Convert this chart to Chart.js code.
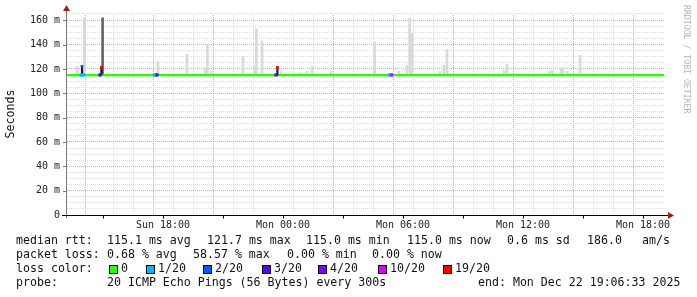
<!DOCTYPE html>
<html>
<head>
<meta charset="utf-8">
<script src="https://cdn.jsdelivr.net/npm/chart.js@4.4.1/dist/chart.umd.min.js"></script>
<style>
  body { margin: 0; background: #fff; }
  canvas { display: block; }
</style>
</head>
<body>
<canvas id="chart" width="697" height="297"></canvas>
<script>
// x 값은 Mon 00:00 기준 시간(hour), y 값은 ms
const startHour = -10.8;
const endHour = 19.05;
const medianRtt = 115;

// 연기(smoke) 스파이크: 시간, 최고값
const smokeHours = [-10.28, -9.93, -6.25, -4.8, -3.9, -3.78, -3.6, -2.0, -1.4, -1.33, -1.05,
  -0.1, 0.85, 1.2, 1.45, 2.4, 4.58, 5.8, 6.2, 6.33, 6.45, 7.85, 8.05, 8.2,
  11.05, 11.2, 13.3, 13.45, 13.9, 14.0, 14.2, 14.85];
const smokeTops = [122, 162, 126, 132, 121, 140, 118, 130, 123, 153, 143,
  118, 117, 118, 122, 118, 142, 118, 123, 162, 149, 118, 123, 136,
  119, 124, 118, 119, 121, 121, 118, 131];

// 손실이 큰 구간의 진한 연기
const darkSmokeHours = [-9.02];
const darkSmokeTops = [162];

// 중앙값이 튀어오른 지점
const jumpHours = [-10.05, -9.08, -0.28];
const jumpTops = [123, 122, 122];
const jumpLoss = [2, 6, 6];

// 손실 색상이 바뀐 중앙값 구간
const lossHours = [-10.1, -9.98, -9.15, -6.43, -6.3, -0.35, 5.3, 5.43];
const lossLevels = [1, 1, 3, 1, 3, 3, 1, 5];

// 축 라벨
const xTickHours = [-6, 0, 6, 12, 18];
const xTickLabels = ['Sun 18:00', 'Mon 00:00', 'Mon 06:00', 'Mon 12:00', 'Mon 18:00'];

// 범례
const lossLabels = ['0', '1/20', '2/20', '3/20', '4/20', '10/20', '19/20'];
const lossColors = ['#26ff00', '#00b8ff', '#0059ff', '#5e00ff', '#7e00ff', '#dd00ff', '#ff0000'];
const rttStats = ['115.1 ms avg', '121.7 ms max', '115.0 ms min', '115.0 ms now', '0.6 ms sd', '186.0', 'am/s'];
const lossStats = ['0.68 % avg', '58.57 % max', '0.00 % min', '0.00 % now'];
const probeText = '20 ICMP Echo Pings (56 Bytes) every 300s';
const endText = 'end: Mon Dec 22 19:06:33 2025';

const mono = '"DejaVu Sans Mono", monospace';
const legendFont = '11.6px ' + mono;

function floatBars(hours, lows, tops) {
  return hours.map((h, i) => ({ x: h, y: [typeof lows === 'number' ? lows : lows[i], tops[i]] }));
}

// 격자 색: 주 격자는 붉은 점선, 보조 격자는 회색 점선
function gridColor(c, major) {
  if (!c.tick || !Number.isInteger(c.tick.value) || c.tick.value === 0) return 'rgba(0,0,0,0)';
  return c.tick.value % major === 0 ? '#e8a0a0' : '#dcdcdc';
}

const decorPlugin = {
  id: 'decor',
  afterDraw(chart) {
    const { ctx, chartArea: a, scales: { x, y } } = chart;
    ctx.save();

    // y축 선과 눈금
    ctx.lineWidth = 1;
    ctx.strokeStyle = '#7a7a7a';
    ctx.beginPath();
    ctx.moveTo(a.left - 0.5, a.bottom + 3);
    ctx.lineTo(a.left - 0.5, 10);
    for (let v = 0; v <= 160; v += 20) {
      const py = Math.round(y.getPixelForValue(v)) + 0.5;
      ctx.moveTo(a.left - 4, py);
      ctx.lineTo(a.left, py);
    }
    ctx.stroke();

    // x축 선과 눈금
    ctx.strokeStyle = '#000';
    ctx.beginPath();
    const by = Math.round(a.bottom) + 0.5;
    ctx.moveTo(a.left - 5, by);
    ctx.lineTo(a.right + 5, by);
    for (let h = -9; h <= 18; h += 3) {
      const px = Math.round(x.getPixelForValue(h)) + 0.5;
      ctx.moveTo(px, by);
      ctx.lineTo(px, by + 3);
    }
    ctx.stroke();

    // 화살표
    ctx.fillStyle = '#a01c1c';
    ctx.beginPath();
    ctx.moveTo(a.left - 4, 11);
    ctx.lineTo(a.left + 3, 11);
    ctx.lineTo(a.left - 0.5, 5);
    ctx.fill();
    ctx.beginPath();
    ctx.moveTo(a.right + 4, by - 3.5);
    ctx.lineTo(a.right + 4, by + 3.5);
    ctx.lineTo(a.right + 10, by);
    ctx.fill();

    // 워터마크
    ctx.save();
    ctx.translate(683, 5);
    ctx.rotate(Math.PI / 2);
    ctx.fillStyle = '#b4b4b4';
    ctx.font = '8.2px ' + mono;
    ctx.textBaseline = 'middle';
    ctx.fillText('RRDTOOL / TOBI OETIKER', 0, -3);
    ctx.restore();

    // 범례 텍스트
    ctx.fillStyle = '#111';
    ctx.font = legendFont;
    ctx.textBaseline = 'middle';
    ctx.fillText('median rtt:', 16, 241);
    [107, 207, 306, 407, 507, 587, 642].forEach((px, i) => ctx.fillText(rttStats[i], px, 241));
    ctx.fillText('packet loss:', 16, 255);
    [107, 193, 287, 372].forEach((px, i) => ctx.fillText(lossStats[i], px, 255));
    ctx.fillText('loss color:', 16, 269);
    const boxX = [109, 146, 203, 262, 318, 378, 443];
    lossLabels.forEach((lab, i) => {
      ctx.fillStyle = lossColors[i];
      ctx.fillRect(boxX[i] + 0.5, 265.5, 8, 8);
      ctx.strokeStyle = '#000';
      ctx.strokeRect(boxX[i] + 0.5, 265.5, 8, 8);
      ctx.fillStyle = '#111';
      ctx.fillText(lab, boxX[i] + 12, 269);
    });
    ctx.fillText('probe:', 16, 283);
    ctx.fillText(probeText, 107, 283);
    ctx.fillText(endText, 478, 283);

    ctx.restore();
  }
};

const barBase = { type: 'bar', grouped: false, borderWidth: 0 };

new Chart(document.getElementById('chart'), {
  type: 'bar',
  data: {
    datasets: [
      { ...barBase, order: 5, data: floatBars(smokeHours, medianRtt, smokeTops),
        backgroundColor: '#d9d9d9', barThickness: 2 },
      { ...barBase, order: 4, data: floatBars(darkSmokeHours, medianRtt, darkSmokeTops),
        backgroundColor: '#666', barThickness: 2 },
      { type: 'line', order: 3, data: [{ x: startHour, y: medianRtt }, { x: endHour, y: medianRtt }],
        borderColor: lossColors[0], borderWidth: 2.2, pointRadius: 0 },
      { ...barBase, order: 2, data: floatBars(jumpHours, medianRtt, jumpTops),
        backgroundColor: '#1a1a2a', barThickness: 1.5 },
      { ...barBase, order: 1, data: floatBars(jumpHours, jumpTops.map(t => t - 1.5), jumpTops),
        backgroundColor: jumpLoss.map(l => lossColors[l]), barThickness: 2 },
      { ...barBase, order: 0, data: floatBars(lossHours, 114, lossHours.map(() => 116.2)),
        backgroundColor: lossLevels.map(l => lossColors[l]), barThickness: 2.5 }
    ]
  },
  options: {
    responsive: false,
    animation: false,
    devicePixelRatio: 1,
    layout: { padding: { top: 10.6, right: 33, bottom: 0, left: 0 } },
    plugins: { legend: { display: false }, tooltip: { enabled: false } },
    scales: {
      x: {
        type: 'linear', min: startHour, max: endHour, offset: false,
        afterFit: s => { s.height = 82; },
        grid: { drawTicks: false, lineWidth: 1, color: c => gridColor(c, 3) },
        border: { display: false, dash: [1, 1] },
        ticks: {
          stepSize: 1, autoSkip: false, maxRotation: 0, padding: 4,
          color: '#222', font: { family: mono, size: 10 },
          callback: v => { const i = xTickHours.indexOf(v); return i >= 0 ? xTickLabels[i] : ''; }
        }
      },
      y: {
        min: 0, max: 166,
        afterFit: s => { s.width = 67; },
        grid: { drawTicks: false, lineWidth: 1, color: c => gridColor(c, 20) },
        border: { display: false, dash: [1, 1] },
        title: {
          display: true, text: 'Seconds', color: '#111',
          font: { family: mono, size: 11.6 }, padding: { top: 4, bottom: 0 }
        },
        ticks: {
          stepSize: 5, autoSkip: false, padding: 7, color: '#222', font: { family: mono, size: 10 },
          callback: v => v % 20 !== 0 ? '' : (v === 0 ? '0' : v + ' m')
        }
      }
    }
  },
  plugins: [decorPlugin]
});
</script>
</body>
</html>
